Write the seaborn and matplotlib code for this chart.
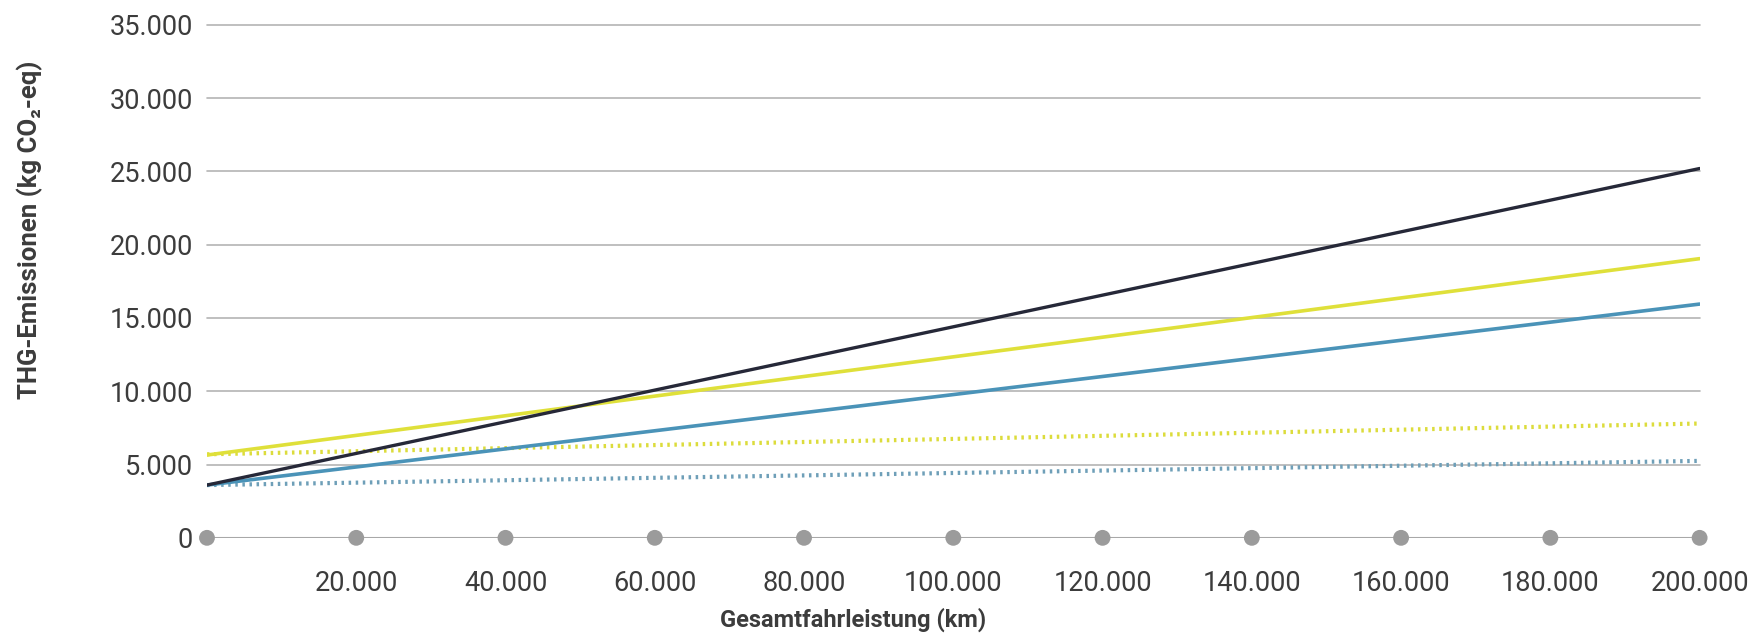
import matplotlib
matplotlib.use("Agg")
import matplotlib.pyplot as plt
import seaborn as sns
import numpy as np
import pandas as pd

# DATA (km driven vs. GHG emissions in kg CO2-eq)
km = [0, 200000]
black_solid = [3600, 25200]
yellow_solid = [5650, 19050]
blue_solid = [3600, 15950]
yellow_dotted = [5700, 7800]
blue_dotted = [3600, 5250]

x_ticks = [0, 20000, 40000, 60000, 80000, 100000, 120000, 140000, 160000, 180000, 200000]
x_tick_labels = ["", "20.000", "40.000", "60.000", "80.000", "100.000",
                 "120.000", "140.000", "160.000", "180.000", "200.000"]
y_ticks = [0, 5000, 10000, 15000, 20000, 25000, 30000, 35000]
y_tick_labels = ["0", "5.000", "10.000", "15.000", "20.000", "25.000", "30.000", "35.000"]

sns.set_theme(style="white")
plt.rcParams['font.family'] = ['Roboto', 'DejaVu Sans']

txt = '#3c3c3c'
fig = plt.figure(figsize=(17.54, 6.38), dpi=100)
ax = fig.add_axes([0.118, 0.157, 0.851, 0.804])

# gridlines
for y in y_ticks[1:]:
    ax.axhline(y, color='#b4b4b4', lw=1.2, zorder=0, clip_on=False)
ax.axhline(0, color='#a8a8a8', lw=1.5, zorder=1)

sns.lineplot(x=km, y=blue_dotted, ax=ax, color='#6e9fb8', lw=3, ls=(0, (0.6, 1.1)), zorder=3)
sns.lineplot(x=km, y=yellow_dotted, ax=ax, color='#dcdc3c', lw=3, ls=(0, (0.6, 1.1)), zorder=3)
sns.lineplot(x=km, y=blue_solid, ax=ax, color='#4a93b8', lw=2.6, zorder=4)
sns.lineplot(x=km, y=yellow_solid, ax=ax, color='#dfe03a', lw=2.6, zorder=4)
sns.lineplot(x=km, y=black_solid, ax=ax, color='#262838', lw=2.4, zorder=5)

# dots on the x axis
sns.scatterplot(x=x_ticks, y=[0] * len(x_ticks), ax=ax, color='#9b9b9b', s=130,
                edgecolor='none', zorder=6, clip_on=False)

ax.set_xlim(0, 200000)
ax.set_ylim(0, 35000)
ax.set_xticks(x_ticks)
ax.set_xticklabels(x_tick_labels)
ax.set_yticks(y_ticks)
ax.set_yticklabels(y_tick_labels)
ax.tick_params(axis='x', length=0, pad=23, labelsize=19.5, labelcolor=txt)
ax.tick_params(axis='y', length=0, pad=10, labelsize=19.5, labelcolor=txt)
for s in ax.spines.values():
    s.set_visible(False)

ax.set_xlabel('Gesamtfahrleistung (km)', fontsize=17, fontweight='bold', color=txt)
ax.xaxis.set_label_coords(0.433, -0.135)
ax.set_ylabel('THG-Emissionen (kg CO₂-eq)', fontsize=18.5, fontweight='bold', color=txt)
ax.yaxis.set_label_coords(-0.11, 0.6)

plt.savefig("out.png", dpi=100)
